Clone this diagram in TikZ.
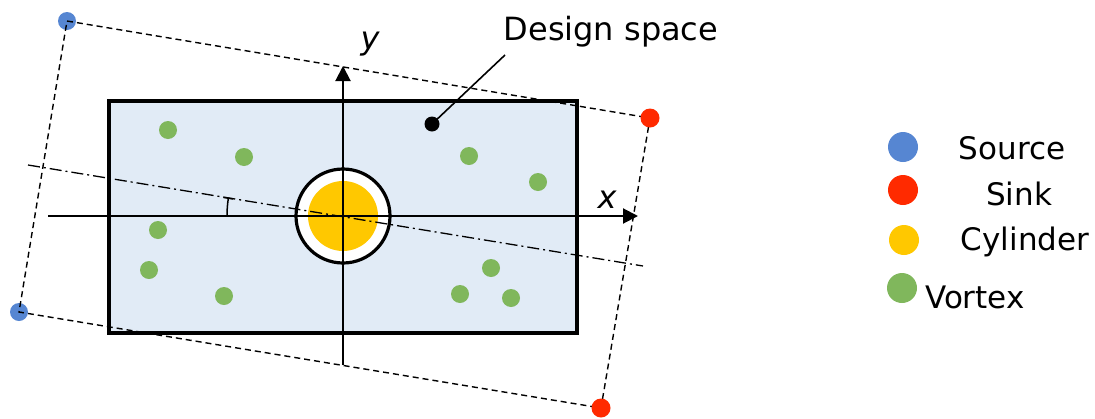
\documentclass[tikz,border=0pt]{standalone}
\usepackage{fontspec}
\setmainfont{DejaVu Sans}
\usepackage{tikz}
\usetikzlibrary{arrows.meta}
\definecolor{srcblue}{HTML}{5686D2}
\definecolor{snkred}{HTML}{FF2A00}
\definecolor{cylyellow}{HTML}{FFC800}
\definecolor{vtxgreen}{HTML}{80B75C}
\definecolor{domfill}{HTML}{E1EBF6}

\begin{document}
\begin{tikzpicture}[x=1pt,y=-1pt,
    dot/.style={circle,inner sep=0pt,minimum size=18pt},
    keydot/.style={circle,inner sep=0pt,minimum size=30pt},
    keytext/.style={font=\fontsize{31}{36}\selectfont,anchor=base,inner sep=0pt},
    axislab/.style={font=\fontsize{32}{36}\selectfont\itshape,anchor=base,inner sep=0pt},
    axis/.style={line width=2pt,-{Triangle[length=15pt,width=15pt]}}]
        \useasboundingbox (0,0) rectangle (1095,418);
        % design domain
        \node[draw,fill=domfill,line width=3.2pt,minimum width=468pt,minimum height=232pt,inner sep=0pt] (dom) at (343,217) {};
        \node[circle,draw,fill=white,line width=3.2pt,minimum size=94pt,inner sep=0pt] (ring) at (343,216) {};
        \node[circle,fill=cylyellow,minimum size=70pt,inner sep=0pt] (cyl) at (343,216) {};
        % axes and rotated axis
        \coordinate (xs) at (48,216);
        \coordinate (xe) at (638,216);
        \coordinate (ys) at (343,365);
        \coordinate (ye) at (343,66);
        \coordinate (rs) at (28,165);
        \coordinate (re) at (643,266);
        \draw[line width=1.3pt,dash pattern=on 12pt off 4pt on 2pt off 4pt] (rs) -- (re);
        \draw[axis] (xs) -- (xe);
        \draw[axis] (ys) -- (ye);
        \node[axislab] (xlab) at (607,208) {x};
        \node[axislab] (ylab) at (370,49) {y};
        \draw[line width=1.5pt,-{Bar[width=10pt]}] (227,216) arc[start angle=180,end angle=189.2,radius=116];
        % vortices
        \foreach \p [count=\i] in {{168,130},{244,157},{469,156},{538,182},{158,230},{149,270},{224,296},{491,268},{460,294},{511,298}}
            \node[dot,fill=vtxgreen] (v\i) at (\p) {};
        % sources and sinks
        \node[dot,fill=srcblue] (src1) at (67,21) {};
        \node[dot,fill=srcblue] (src2) at (19,312) {};
        \draw[line width=1.4pt,dash pattern=on 6pt off 4pt] (src1.center) -- (650,118) -- (601,408) -- (src2.center) -- cycle;
        \node[dot,fill=snkred,minimum size=19pt] (snk1) at (650,118) {};
        \node[dot,fill=snkred,minimum size=19pt] (snk2) at (601,408) {};
        % design space label
        \node[circle,fill=black,inner sep=0pt,minimum size=15pt] (pin) at (432,124) {};
        \coordinate (lead) at (505,55);
        \draw[line width=1.6pt] (pin.center) -- (lead);
        \node[font=\fontsize{32}{36}\selectfont,anchor=base,inner sep=0pt] (dslab) at (611,40) {Design space};
        % legend
        \node[keydot,fill=srcblue] (k1) at (903,147) {};
        \node[keydot,fill=snkred] (k2) at (903,190) {};
        \node[keydot,fill=cylyellow] (k3) at (904,240) {};
        \node[keydot,fill=vtxgreen] (k4) at (902,288) {};
        \node[keytext] (t1) at (1012,159) {Source};
        \node[keytext] (t2) at (1019,205) {Sink};
        \node[keytext] (t3) at (1025,250) {Cylinder};
        \node[keytext,anchor=base west] (t4) at (925,308) {Vortex};
\end{tikzpicture}
\end{document}
